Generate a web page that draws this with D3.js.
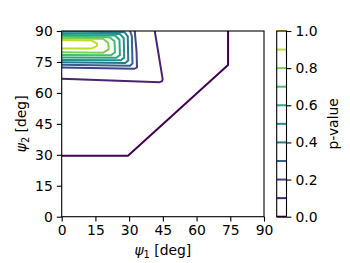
<!DOCTYPE html>
<html>
<head>
<meta charset="utf-8">
<script src="https://cdn.jsdelivr.net/npm/d3@7"></script>
<style>
  body { margin: 0; background: #fff; }
  svg { font-family: "DejaVu Sans", sans-serif; }
</style>
</head>
<body>
<script>
// contour levels of the p-value map
const levels = [0.0, 0.1, 0.2, 0.3, 0.4, 0.5, 0.6, 0.7, 0.8, 0.9, 1.0];
const ticks = [0, 15, 30, 45, 60, 75, 90];
const cbTicks = [0.0, 0.2, 0.4, 0.6, 0.8, 1.0];

// contour paths, [psi1, psi2] in degrees
const c00 = [[0, 29.5], [29.5, 29.5], [74, 73.5], [74, 90]];
const c01 = [[0, 66.8], [22, 66], [43.6, 65.2], [44.7, 65.7], [44.9, 66.8], [41.4, 90]];
const c02 = [[0, 72.3], [32.4, 71.7], [33.5, 72.4], [33.3, 80], [32.5, 90]];
const c03 = [[0, 73.6], [30.4, 73.2], [31.5, 74.3], [31.2, 87.5], [30.4, 90]];
const c04 = [[0, 74.8], [28.3, 74.5], [29.6, 75.7], [29.4, 87.4], [28, 89.4], [0, 89.7]];
const c05 = [[0, 76], [26.3, 75.8], [27.8, 77.1], [27.6, 86.6], [25.8, 88.6], [0, 88.9]];
const c06 = [[0, 77.2], [24.3, 77], [25.9, 78.4], [25.7, 85.8], [23.8, 87.8], [0, 88.1]];
const c07 = [[0, 78.4], [21.8, 78.2], [23.7, 79.7], [23.5, 85], [21.3, 87], [0, 87.2]];
const c08 = [[0, 79.7], [18.5, 79.5], [20.9, 81.1], [20.7, 84.2], [18.4, 86.2], [0, 86.4]];
const c09 = [[0, 81.5], [13.2, 81.5], [15.7, 82.8], [15.7, 83.9], [13.2, 85.4], [0, 85.6]];
const contourLevels = [0.0, 0.1, 0.2, 0.3, 0.4, 0.5, 0.6, 0.7, 0.8, 0.9];
const contourPaths = [c00, c01, c02, c03, c04, c05, c06, c07, c08, c09];

const width = 350, height = 263;
const m = {left: 61.7, right: 264, top: 31, bottom: 216.7};
const cb = {left: 276.7, right: 286.5};
const fs = 13.9;

const x = d3.scaleLinear().domain([0, 90]).range([m.left, m.right]);
const y = d3.scaleLinear().domain([0, 90]).range([m.bottom, m.top]);
const cy = d3.scaleLinear().domain([0, 1]).range([m.bottom, m.top]);
const color = d3.scaleSequential(d3.interpolateViridis).domain([0, 1]);

const svg = d3.select("body").append("svg")
    .attr("width", width)
    .attr("height", height);

svg.append("clipPath").attr("id", "clip")
  .append("rect")
    .attr("x", m.left).attr("y", m.top)
    .attr("width", m.right - m.left).attr("height", m.bottom - m.top);

const line = d3.line().x(d => x(d[0])).y(d => y(d[1]));

svg.append("g")
    .attr("clip-path", "url(#clip)")
  .selectAll("path")
  .data(contourPaths)
  .join("path")
    .attr("d", line)
    .attr("fill", "none")
    .attr("stroke", (d, i) => color(contourLevels[i]))
    .attr("stroke-width", 2)
    .attr("stroke-linejoin", "round");

function styleAxis(g) {
  g.select(".domain").remove();
  g.selectAll(".tick line").attr("stroke", "#000").attr("stroke-width", 1.1);
  g.selectAll(".tick text").attr("fill", "#000").attr("font-size", fs)
    .attr("font-family", "DejaVu Sans");
}

svg.append("g")
    .attr("transform", `translate(0,${m.bottom})`)
    .call(d3.axisBottom(x).tickValues(ticks).tickSize(4.9).tickPadding(4))
    .call(styleAxis);

svg.append("g")
    .attr("transform", `translate(${m.left},0)`)
    .call(d3.axisLeft(y).tickValues(ticks).tickSize(4.9).tickPadding(4))
    .call(styleAxis);

// spines
svg.append("rect")
    .attr("x", m.left).attr("y", m.top)
    .attr("width", m.right - m.left).attr("height", m.bottom - m.top)
    .attr("fill", "none").attr("stroke", "#000").attr("stroke-width", 1.1);

// axis labels
const xl = svg.append("text")
    .attr("x", (m.left + m.right) / 2).attr("y", 255)
    .attr("text-anchor", "middle").attr("font-size", fs);
xl.append("tspan").attr("font-style", "italic").text("ψ");
xl.append("tspan").attr("dy", 3).attr("font-size", fs * 0.7).text("1");
xl.append("tspan").attr("dy", -3).text(" [deg]");

const yl = svg.append("text")
    .attr("transform", `translate(26,${(m.top + m.bottom) / 2}) rotate(-90)`)
    .attr("text-anchor", "middle").attr("font-size", fs);
yl.append("tspan").attr("font-style", "italic").text("ψ");
yl.append("tspan").attr("dy", 3).attr("font-size", fs * 0.7).text("2");
yl.append("tspan").attr("dy", -3).text(" [deg]");

// colorbar
svg.append("g")
  .selectAll("line")
  .data(levels)
  .join("line")
    .attr("x1", cb.left).attr("x2", cb.right)
    .attr("y1", d => cy(d)).attr("y2", d => cy(d))
    .attr("stroke", d => color(d))
    .attr("stroke-width", 2);

svg.append("rect")
    .attr("x", cb.left).attr("y", m.top)
    .attr("width", cb.right - cb.left).attr("height", m.bottom - m.top)
    .attr("fill", "none").attr("stroke", "#000").attr("stroke-width", 1.1);

svg.append("g")
    .attr("transform", `translate(${cb.right},0)`)
    .call(d3.axisRight(cy).tickValues(cbTicks).tickFormat(d3.format(".1f")).tickSize(4.9).tickPadding(4))
    .call(styleAxis);

svg.append("text")
    .attr("transform", `translate(338,${(m.top + m.bottom) / 2}) rotate(-90)`)
    .attr("text-anchor", "middle").attr("font-size", fs)
    .text("p-value");
</script>
</body>
</html>
